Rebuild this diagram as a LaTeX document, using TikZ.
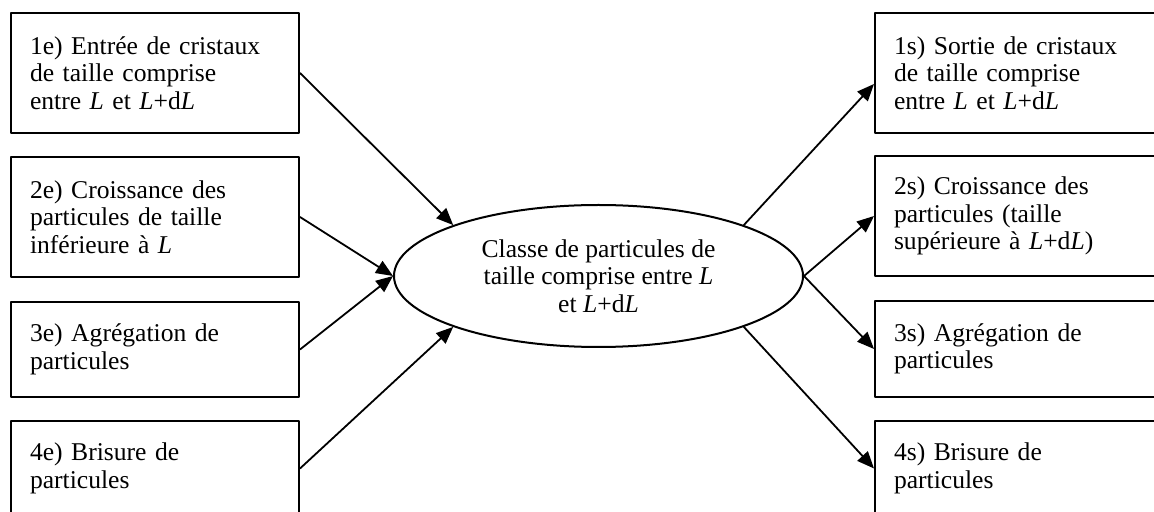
\documentclass[tikz,border=0pt]{standalone}
\usepackage{fontspec}
\setmainfont{Liberation Serif}
\usetikzlibrary{shapes.geometric,arrows.meta}
\begin{document}
\begin{tikzpicture}[x=0.5pt,y=-0.5pt,font=\fontsize{12.8pt}{13.8pt}\selectfont,line join=round,>={Triangle[length=8.5pt,width=7pt]},
	boite/.style={draw,line width=1pt,anchor=north west,minimum width=144pt,text width=125pt,inner xsep=9.5pt,align=left},
	fl/.style={->,line width=0.9pt}]
	\useasboundingbox (0,0) rectangle (1154,512);
	\node[boite,minimum height=60pt] (e1) at (10,12) {1e) Entrée de cristaux\\de taille comprise\\entre \textit{L} et \textit{L}+d\textit{L}};
	\node[boite,minimum height=60pt] (e2) at (10,156) {2e) Croissance des\\particules de taille\\inférieure à \textit{L}};
	\node[boite,minimum height=47.5pt] (e3) at (10,301) {3e) Agrégation de\\particules};
	\node[boite,minimum height=47.5pt] (e4) at (10,420) {4e) Brisure de\\particules};
	\node[boite,minimum height=60pt] (s1) at (874,12) {1s) Sortie de cristaux\\de taille comprise\\entre \textit{L} et \textit{L}+d\textit{L}};
	\node[boite,minimum height=60pt] (s2) at (874,155) {2s) Croissance des\\particules (taille\\supérieure à \textit{L}+d\textit{L})};
	\node[boite,minimum height=48pt] (s3) at (874,300) {3s) Agrégation de\\particules};
	\node[boite,minimum height=47.5pt] (s4) at (874,420) {4s) Brisure de\\particules};
	\node[draw,ellipse,line width=1pt,minimum width=204.5pt,minimum height=71pt,inner sep=0pt,align=center] (c) at (598.5,276) {Classe de particules de\\taille comprise entre \textit{L}\\et \textit{L}+d\textit{L}};
	\draw[fl] (e1.east) -- (c.north west);
	\draw[fl] (e2.east) -- (c.west);
	\draw[fl] (e3.east) -- (c.west);
	\draw[fl] (e4.east) -- (c.south west);
	\draw[fl] (c.north east) -- ([yshift=-5.5pt]s1.west);
	\draw[fl] (c.east) -- (s2.west);
	\draw[fl] (c.east) -- (s3.west);
	\draw[fl] (c.south east) -- (s4.west);
\end{tikzpicture}
\end{document}
